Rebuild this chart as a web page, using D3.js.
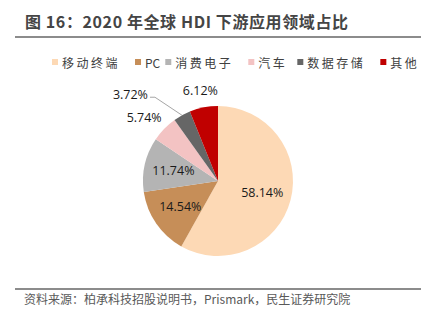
<!DOCTYPE html>
<html><head><meta charset="utf-8">
<script src="https://cdn.jsdelivr.net/npm/d3@7"></script>
<style>
body{margin:0;background:#fff;}
svg{display:block;}
</style></head>
<body>
<svg id="c" width="424" height="323"></svg>
<script>
const categories = ["移动终端","PC","消费电子","汽车","数据存储","其他"];
const values = [58.14, 14.54, 11.74, 5.74, 3.72, 6.12];
const labels = ["58.14%","14.54%","11.74%","5.74%","3.72%","6.12%"];
const colors = ["#FDD9B5","#C68E58","#B4B4B4","#F3C3C3","#666666","#C00000"];
const titleText = "图 16：2020 年全球 HDI 下游应用领域占比";
const sourceText = "资料来源：柏承科技招股说明书，Prismark，民生证券研究院";

const svg = d3.select("#c");

// title
svg.append("text").attr("x",25).attr("y",28)
  .attr("font-family","'Noto Sans CJK SC', 'Noto Sans', sans-serif")
  .attr("font-weight","bold").attr("font-size",16).attr("fill","#454545")
  .attr("letter-spacing",0.6)
  .text(titleText);
svg.append("line").attr("x1",15).attr("x2",421).attr("y1",37).attr("y2",37)
  .attr("stroke","#666").attr("stroke-width",1.5);

// footer
svg.append("line").attr("x1",15).attr("x2",421).attr("y1",289).attr("y2",289)
  .attr("stroke","#666").attr("stroke-width",1.5);
svg.append("text").attr("x",24).attr("y",304)
  .attr("font-family","'Noto Sans CJK SC', sans-serif")
  .attr("font-size",12).attr("fill","#595959")
  .text(sourceText);

// legend
const lg = svg.append("g").attr("font-family","'Noto Sans CJK SC', serif").attr("font-size",12).attr("fill","#404040");
let lx = 52;
categories.forEach((c,i)=>{
  lg.append("rect").attr("x",lx).attr("y",59).attr("width",6).attr("height",6).attr("fill",colors[i]);
  const sp = c==="PC"?0:2.5;
  const t = lg.append("text").attr("x",lx+10).attr("y",67.5)
    .attr("letter-spacing", sp).text(c);
  const w = t.node().getComputedTextLength() + sp*c.length;
  lx += 10 + w + 5;
});

// pie
const cx = 218, cy = 181, R = 75;
const pie = d3.pie().sort(null).value(d=>d)(values);
const arc = d3.arc().innerRadius(0).outerRadius(R);
const g = svg.append("g").attr("transform",`translate(${cx},${cy})`);
g.selectAll("path").data(pie).enter().append("path")
  .attr("d",arc).attr("fill",(d,i)=>colors[i]);

const mid = d=> (d.startAngle+d.endAngle)/2;
const polar = (a,r)=>[r*Math.sin(a), -r*Math.cos(a)];
const lf = "'Open Sans', sans-serif";
pie.forEach((d,i)=>{
  const a = mid(d);
  let x,y,anchor="middle";
  if(i<3){ [x,y] = polar(a, R*0.61); }
  else if(i===3){ [x,y] = polar(a, R*1.3); x-=4; y+=5; }
  else if(i===5){ [x,y] = polar(a, R*1.23); }
  else {
    const [ex,ey] = polar(a, R);
    const bx = ex-27, by = ey-18;
    g.append("polyline").attr("points",[[ex,ey],[bx,by],[bx-5,by]].map(p=>p.join(",")).join(" "))
      .attr("fill","none").attr("stroke","#A6A6A6").attr("stroke-width",1);
    x = bx-7; y = by-3; anchor="end";
  }
  g.append("text").attr("x",x).attr("y",y).attr("dy","0.35em")
    .attr("text-anchor",anchor).attr("font-family",lf).attr("font-size",12.5)
    .attr("fill","#1a1a1a").text(labels[i]);
});
</script>
</body></html>
